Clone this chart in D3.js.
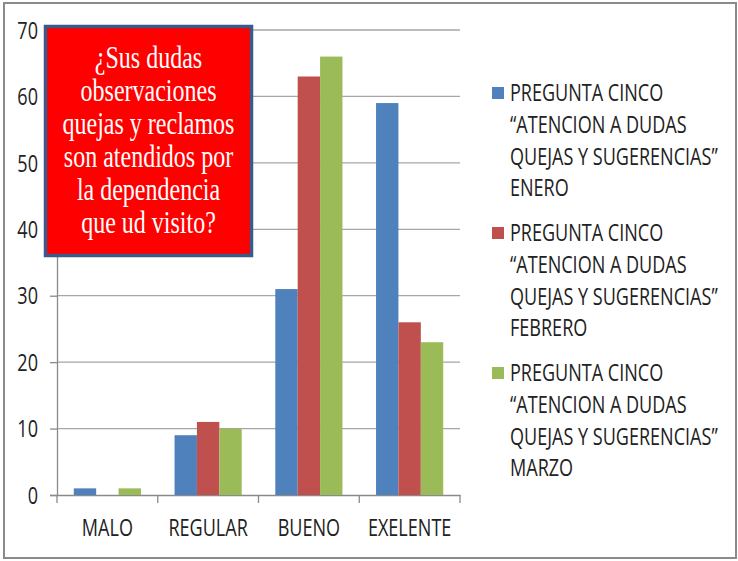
<!DOCTYPE html>
<html>
<head>
<meta charset="utf-8">
<script src="https://cdn.jsdelivr.net/npm/d3@7"></script>
<style>
  html, body { margin: 0; padding: 0; background: #fff; }
  svg { display: block; }
</style>
</head>
<body>
<div id="chart"></div>
<script>
"use strict";

const categories = ["MALO", "REGULAR", "BUENO", "EXELENTE"];
const seriesNames = [
    ["PREGUNTA CINCO", "\u201CATENCION A DUDAS", "QUEJAS Y SUGERENCIAS\u201D", "ENERO"],
    ["PREGUNTA CINCO", "\u201CATENCION A DUDAS", "QUEJAS Y SUGERENCIAS\u201D", "FEBRERO"],
    ["PREGUNTA CINCO", "\u201CATENCION A DUDAS", "QUEJAS Y SUGERENCIAS\u201D", "MARZO"]
];
const eneroValues = [1, 9, 31, 59];
const febreroValues = [0, 11, 63, 26];
const marzoValues = [1, 10, 66, 23];
const yTicks = [0, 10, 20, 30, 40, 50, 60, 70];
const colors = ["#4f81bd", "#c0504d", "#9bbb59"];
const titleLines = ["\u00BFSus dudas", "observaciones", "quejas y reclamos", "son atendidos por", "la dependencia", "que ud visito?"];

const series = [eneroValues, febreroValues, marzoValues];

const width = 738, height = 561;
const plot = { left: 57, right: 460, top: 30, bottom: 495 };
const sansFont = "'Open Sans', 'Liberation Sans', sans-serif";
const sansScale = "scale(0.95,1.2)";

const svg = d3.select("#chart").append("svg")
    .attr("width", width)
    .attr("height", height);

// outer frame
svg.append("rect")
    .attr("x", 4).attr("y", 3)
    .attr("width", 732).attr("height", 555)
    .attr("fill", "#fff")
    .attr("stroke", "#8a8a8a")
    .attr("stroke-width", 2);

const x0 = d3.scaleBand().domain(categories).range([plot.left, plot.right]);
const x1 = d3.scaleBand().domain(d3.range(series.length)).range([0, x0.bandwidth()])
    .paddingInner(0).paddingOuter(0.75);
const y = d3.scaleLinear().domain([0, 70]).range([plot.bottom, plot.top]);

// gridlines
svg.append("g")
    .selectAll("line")
    .data(yTicks.filter(t => t > 0))
    .join("line")
    .attr("x1", plot.left).attr("x2", plot.right)
    .attr("y1", d => y(d)).attr("y2", d => y(d))
    .attr("stroke", "#a6a6a6")
    .attr("stroke-width", 1.3);

// y axis
const yAxis = svg.append("g")
    .attr("transform", `translate(${plot.left},0)`)
    .call(d3.axisLeft(y).tickValues(yTicks).tickSize(7));
yAxis.select(".domain").attr("stroke", "#8a8a8a").attr("stroke-width", 1.3);
yAxis.selectAll(".tick line").attr("stroke", "#8a8a8a").attr("stroke-width", 1.3);
yAxis.selectAll("text")
    .attr("x", null)
    .attr("dy", "0.36em")
    .attr("transform", `translate(-19,0) ${sansScale}`)
    .attr("font-family", sansFont)
    .attr("font-size", 19)
    .attr("fill", "#222");

// x axis
const xAxis = svg.append("g")
    .attr("transform", `translate(0,${plot.bottom})`)
    .call(d3.axisBottom(x0).tickSize(0));
xAxis.select(".domain").attr("stroke", "#8a8a8a").attr("stroke-width", 1.3);
xAxis.selectAll("text")
    .attr("y", null)
    .attr("dy", "0.36em")
    .attr("transform", `translate(0,33) ${sansScale}`)
    .attr("font-family", sansFont)
    .attr("font-size", 19)
    .attr("fill", "#222");
xAxis.selectAll(".sep")
    .data([plot.left, ...categories.map(c => x0(c) + x0.bandwidth())])
    .join("line")
    .attr("class", "sep")
    .attr("x1", d => d).attr("x2", d => d)
    .attr("y1", 0).attr("y2", 8)
    .attr("stroke", "#8a8a8a")
    .attr("stroke-width", 1.3);

// bars
svg.append("g")
    .selectAll("g")
    .data(series)
    .join("g")
    .attr("fill", (d, i) => colors[i])
    .selectAll("rect")
    .data((d, i) => d.map((v, j) => ({ cat: categories[j], s: i, v })))
    .join("rect")
    .attr("x", d => x0(d.cat) + x1(d.s))
    .attr("width", x1.bandwidth())
    .attr("y", d => y(d.v))
    .attr("height", d => plot.bottom - y(d.v));

// legend
const legend = svg.append("g")
    .selectAll("g")
    .data(seriesNames)
    .join("g")
    .attr("transform", (d, i) => `translate(492,${93 + i * 140})`);
legend.append("rect")
    .attr("x", 0).attr("y", -6)
    .attr("width", 12).attr("height", 12)
    .attr("fill", (d, i) => colors[i]);
legend.selectAll("text")
    .data(d => d)
    .join("text")
    .attr("transform", (d, i) => `translate(18,${i * 31.7}) ${sansScale}`)
    .attr("dy", "0.36em")
    .attr("font-family", sansFont)
    .attr("font-size", 19)
    .attr("fill", "#222")
    .text(d => d);

// title box
const box = svg.append("g");
box.append("rect")
    .attr("x", 45.5).attr("y", 26.5)
    .attr("width", 206).attr("height", 229)
    .attr("fill", "#ff0000")
    .attr("stroke", "#3b5a8a")
    .attr("stroke-width", 3.5);
box.selectAll("text")
    .data(titleLines)
    .join("text")
    .attr("transform", (d, i) => `translate(148.5,${68 + i * 33}) scale(1,1.3)`)
    .attr("font-family", "'Liberation Serif', 'DejaVu Serif', serif")
    .attr("font-size", 24)
    .attr("fill", "#fff")
    .attr("text-anchor", "middle")
    .text(d => d);
</script>
</body>
</html>
